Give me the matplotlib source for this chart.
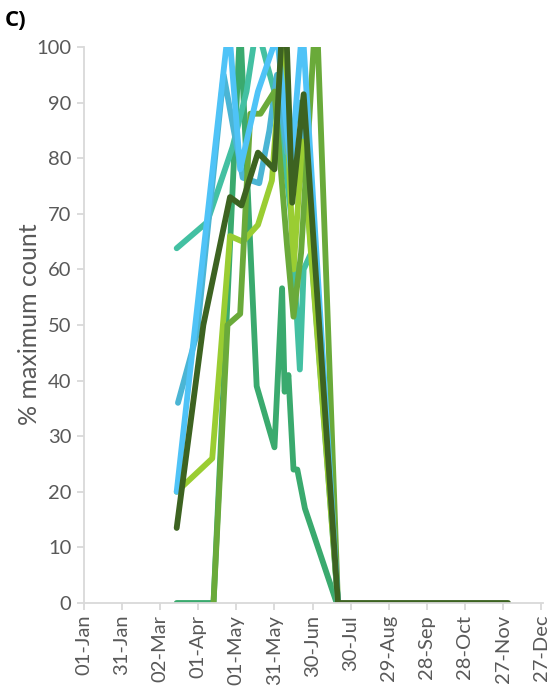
import matplotlib
matplotlib.use('Agg')
import matplotlib.pyplot as plt

plt.rcParams['font.family'] = ['Lato', 'DejaVu Sans']

# x = day of year (0 = 01-Jan), y = % maximum count
tick_days = [0, 30, 60, 90, 120, 150, 180, 210, 240, 270, 300, 330, 360]
tick_labels = ['01-Jan', '31-Jan', '02-Mar', '01-Apr', '01-May', '31-May', '30-Jun',
               '30-Jul', '29-Aug', '28-Sep', '28-Oct', '27-Nov', '27-Dec']

green_days = [73, 102, 123, 136, 150, 156, 158, 161, 165, 168, 174, 199]
green_vals = [0, 0, 104, 39, 28, 56.6, 38, 41, 24, 24, 17, 0]

teal_days = [73, 97, 117, 128, 136, 144, 150, 158, 163, 170, 173, 180, 200]
teal_vals = [63.8, 68.5, 82, 92, 104, 97, 92, 80, 70, 42, 60, 63.5, 0]

midblue_days = [74, 89, 110, 118, 125, 138, 146, 152, 160, 170, 200]
midblue_vals = [36, 48.5, 95, 85, 76.5, 75.5, 85, 95, 81, 90, 0]

lightgreen_days = [73, 101, 115, 125, 137, 148, 157, 165, 172, 200]
lightgreen_vals = [20, 26, 66, 65, 68, 76, 104, 60, 83, 0]

olive_days = [102, 113, 123, 131, 139, 150, 160, 165, 171, 183, 200]
olive_vals = [0, 50, 52, 88, 88, 92, 64, 51.5, 63, 108, 0]

lightblue_days = [73, 114, 123, 137, 152, 163, 172, 200]
lightblue_vals = [20, 104, 78, 92, 102, 78, 104, 0]

darkgreen_days = [73, 94, 115, 124, 137, 150, 158, 164, 173, 200, 334]
darkgreen_vals = [13.5, 50, 73, 71.5, 81, 78, 112, 72, 91.5, 0, 0]

series = [
    (green_days, green_vals, '#3AAA6E'),
    (teal_days, teal_vals, '#43C0A2'),
    (midblue_days, midblue_vals, '#4BB5D4'),
    (lightgreen_days, lightgreen_vals, '#9ACD32'),
    (olive_days, olive_vals, '#6AAA3A'),
    (lightblue_days, lightblue_vals, '#4FC3F7'),
    (darkgreen_days, darkgreen_vals, '#3D6321'),
]

fig = plt.figure(figsize=(5.52, 6.9), dpi=100)
ax = fig.add_axes([84 / 552, 87 / 690, 459 / 552, 556 / 690])

for d, v, c in series:
    ax.plot(d, v, color=c, lw=4.2, solid_joinstyle='round', solid_capstyle='round')

ax.set_xlim(0, 361.5)
ax.set_ylim(0, 100)
ax.set_xticks(tick_days)
ax.set_xticklabels(tick_labels, rotation=90)
ax.set_yticks(range(0, 101, 10))

for s in ['top', 'right']:
    ax.spines[s].set_visible(False)
for s in ['left', 'bottom']:
    ax.spines[s].set_color('#D9D9D9')
    ax.spines[s].set_linewidth(1.3)
ax.tick_params(axis='both', colors='#D9D9D9', labelcolor='#595959', labelsize=14.5,
               length=5, width=1.3)
ax.tick_params(axis='y', pad=4)

fig.text(30 / 552, 0.53, '% maximum count', rotation=90, ha='center', va='center',
         fontsize=18, color='#595959')
fig.text(5 / 552, 1 - 21 / 690, 'C)', fontsize=16, fontweight='bold', ha='left', va='center',
         family=['Open Sans', 'DejaVu Sans'])

fig.savefig('out.png', dpi=100)
